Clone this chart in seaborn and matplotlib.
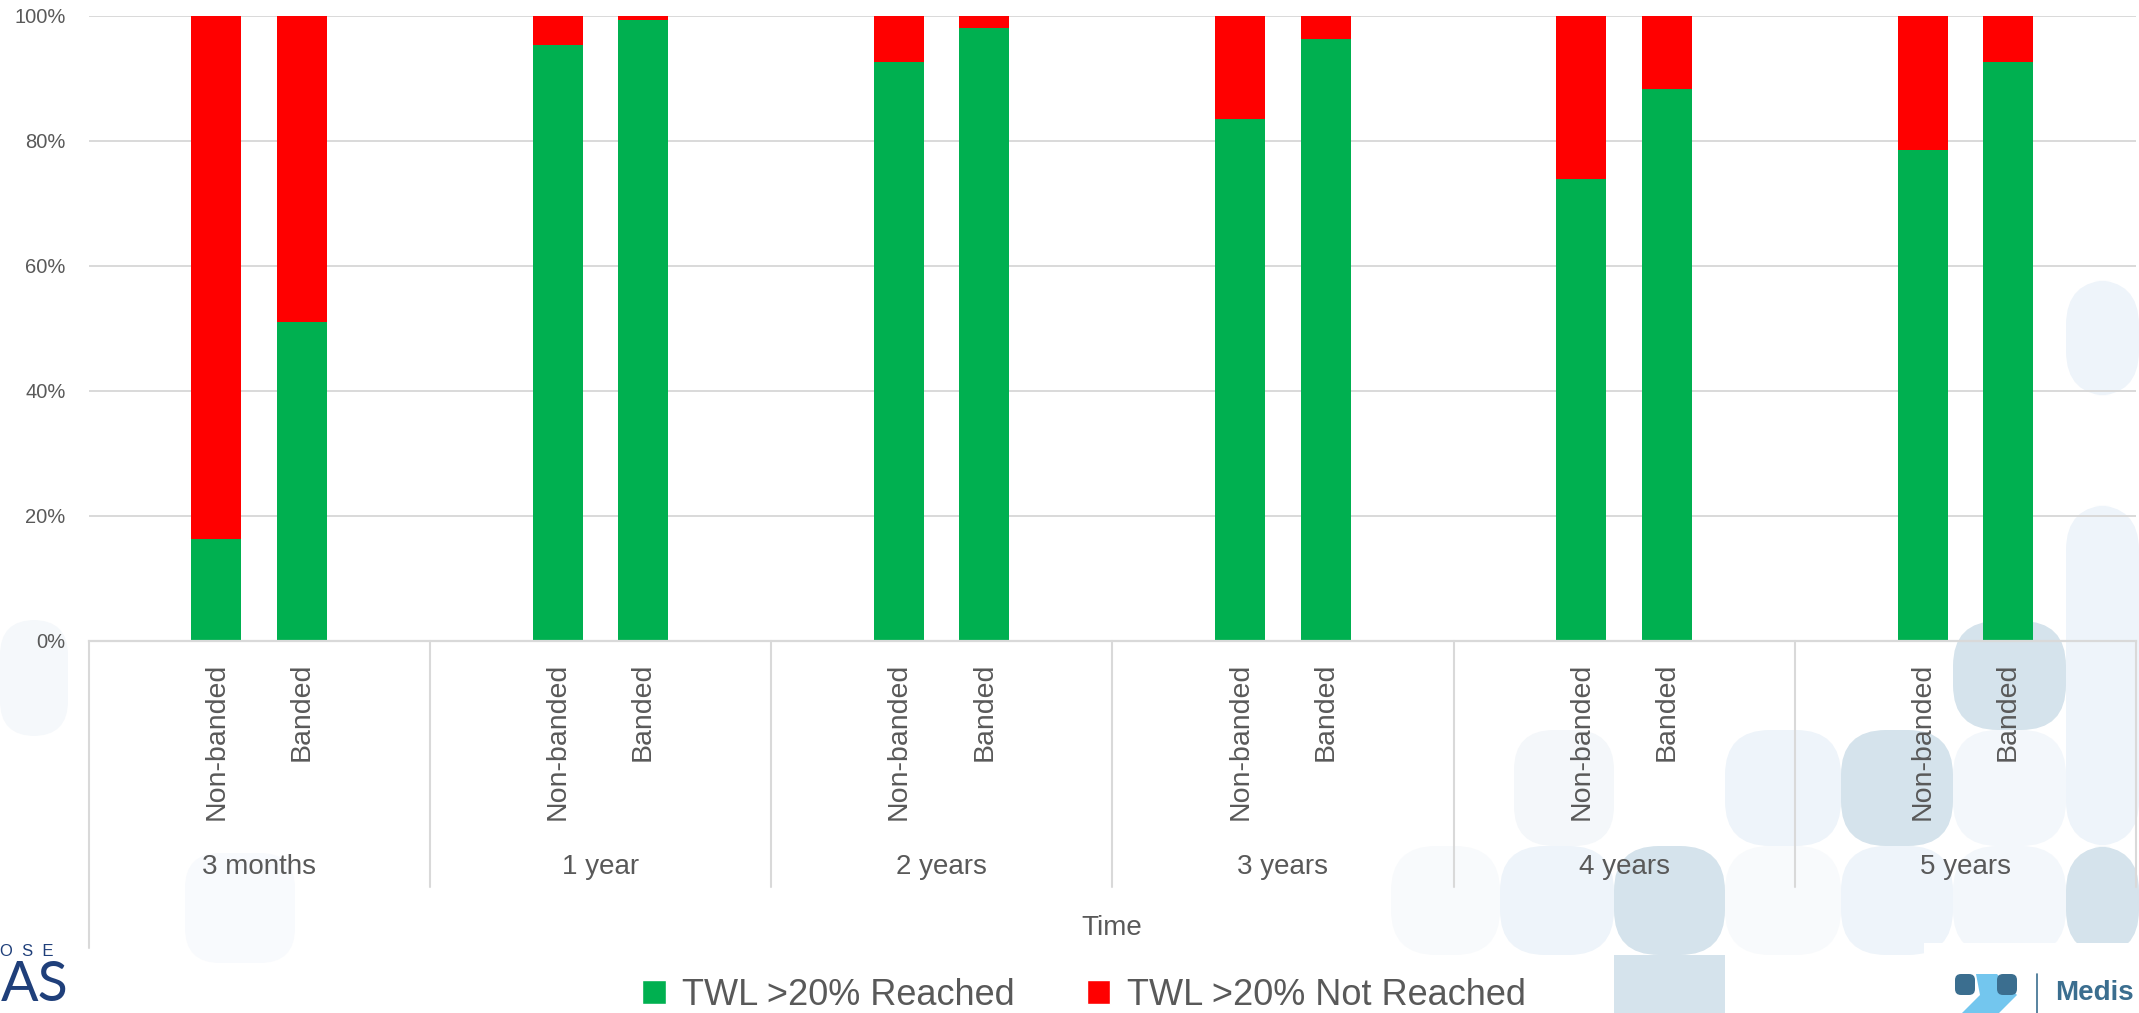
import numpy as np
import pandas as pd
import matplotlib
matplotlib.use("Agg")
import matplotlib.pyplot as plt
import matplotlib.transforms as mtransforms
from matplotlib.patches import FancyBboxPatch, Patch, Rectangle, Polygon
import seaborn as sns

# ---- data -------------------------------------------------------------
time_points = ["3 months", "1 year", "2 years", "3 years", "4 years", "5 years"]
groups = ["Non-banded", "Banded"]
reached_non_banded = [16.3, 95.3, 92.6, 83.5, 73.8, 78.5]   # % TWL >20% reached
reached_banded = [50.9, 99.3, 98.0, 96.2, 88.2, 92.5]
stack_total = 100
series_labels = ["TWL >20% Reached", "TWL >20% Not Reached"]
y_ticks = [0, 20, 40, 60, 80, 100]
x_title = "Time"

GREEN = "#00b050"
RED = "#ff0000"
TEXT = "#595959"
GRID = "#d9d9d9"

rows = []
for t, nb, b in zip(time_points, reached_non_banded, reached_banded):
    rows.append((t, "Non-banded", nb))
    rows.append((t, "Banded", b))
df = pd.DataFrame(rows, columns=["time", "group", "reached"])
df["total"] = stack_total

# ---- figure -----------------------------------------------------------
sns.set_theme(style="white")
plt.rcParams["font.family"] = ["Liberation Sans", "DejaVu Sans"]

W, H = 2139, 1013
fig = plt.figure(figsize=(W / 100, H / 100), dpi=100)
fig.patch.set_facecolor("white")

# decorative background tiles (pixel coordinates, origin top-left)
tiles = [
    (2066, 280, 2139, 396, "#eef4fa", 45),
    (2066, 505, 2139, 846, "#eef4fa", 45),
    (1953, 621, 2066, 730, "#d5e3ec", 45),
    (1953, 730, 2066, 846, "#f3f7fb", 45),
    (1841, 730, 1953, 846, "#d5e3ec", 45),
    (1725, 730, 1841, 846, "#eef4fa", 45),
    (1514, 730, 1614, 846, "#f4f7fa", 40),
    (1500, 846, 1614, 955, "#eef4fa", 45),
    (1614, 846, 1725, 955, "#d5e3ec", 45),
    (1614, 955, 1725, 1013, "#d5e3ec", 0),
    (1725, 846, 1841, 955, "#f8fafc", 45),
    (1841, 846, 1953, 955, "#eef4fa", 45),
    (1953, 846, 2066, 955, "#f3f7fb", 45),
    (2066, 846, 2139, 955, "#d5e3ec", 45),
    (1391, 846, 1500, 955, "#f8fafc", 45),
    (0, 620, 68, 736, "#f5f8fb", 35),
    (185, 853, 295, 963, "#f8fafd", 35),
]
for x0, y0, x1, y1, c, r in tiles:
    style = f"round,pad=0,rounding_size={r}" if r else "square,pad=0"
    fig.patches.append(FancyBboxPatch((x0, H - y1), x1 - x0, y1 - y0,
                                      boxstyle=style, transform=None,
                                      facecolor=c, edgecolor="none", zorder=0))

ax = fig.add_axes([88.5 / W, 1 - 640.5 / H, (2136 - 88.5) / W, 624.9 / H])
ax.set_facecolor("none")
ax.set_zorder(1)

# stacked bars: the full 100% stack in red, the reached share in green over it
sns.barplot(data=df, x="time", y="total", hue="group", order=time_points,
            hue_order=groups, palette={g: RED for g in groups}, saturation=1,
            width=0.5, gap=0.414, errorbar=None, linewidth=0, legend=False, ax=ax)
sns.barplot(data=df, x="time", y="reached", hue="group", order=time_points,
            hue_order=groups, palette={g: GREEN for g in groups}, saturation=1,
            width=0.5, gap=0.414, errorbar=None, linewidth=0, legend=False, ax=ax)

ax.set_ylim(0, 100)
ax.set_xlim(-0.5, len(time_points) - 0.5)
ax.set_yticks(y_ticks)
ax.yaxis.set_major_formatter(lambda v, p: f"{v:.0f}%")
ax.grid(axis="y", color=GRID, linewidth=1.4)
ax.grid(axis="x", visible=False)
ax.set_axisbelow(True)
for s in ["left", "right", "top"]:
    ax.spines[s].set_visible(False)
ax.spines["bottom"].set_color(GRID)
ax.spines["bottom"].set_linewidth(1.6)
ax.set_xlabel("")
ax.set_ylabel("")

# per-bar group labels as rotated ticks
ticks, labels = [], []
for g, cont in zip(groups, ax.containers[len(groups):]):
    for bar in cont:
        ticks.append(bar.get_x() + bar.get_width() / 2)
        labels.append(g)
ax.set_xticks(ticks, labels)
ax.tick_params(axis="x", length=0, pad=16, labelsize=20.5, labelcolor=TEXT,
               labelrotation=90)
ax.tick_params(axis="y", length=0, pad=16.5, labelsize=14.5, labelcolor=TEXT)

# time-point labels and separators of the multi-level category axis
trans = mtransforms.blended_transform_factory(ax.transData, ax.transAxes)
for i, t in enumerate(time_points):
    ax.text(i, -0.3625, t, transform=trans, ha="center", va="center",
            fontsize=20, color=TEXT)
for i in range(len(time_points) + 1):
    y_end = -0.492 if i == 0 else -0.394
    ax.plot([i - 0.5, i - 0.5], [0, y_end], transform=trans, color=GRID,
            linewidth=1.5, clip_on=False)

fig.text(1112 / W, 1 - 928 / H, x_title, ha="center", va="center",
         fontsize=20, color=TEXT, zorder=3)

leg = fig.legend(handles=[Patch(facecolor=GREEN), Patch(facecolor=RED)],
                 labels=series_labels, loc="center",
                 bbox_to_anchor=(1084 / W, 1 - 995 / H), ncol=2, frameon=False,
                 fontsize=26, handlelength=0.65, handleheight=0.65,
                 handletextpad=0.45, columnspacing=2.0, labelcolor=TEXT)
leg.set_zorder(4)

# corner logos
fig.patches.append(Rectangle((1924, 0), W - 1924, H - 943, transform=None,
                             facecolor="white", edgecolor="none", zorder=2))
fig.patches.append(Polygon([(1976, H - 974), (1997, H - 974), (2017, H - 995),
                            (1999, H - 1013), (1962, H - 1013), (1980, H - 995)],
                           closed=True, transform=None,
                           facecolor="#73c6ee", edgecolor="none", zorder=2.1))
for x0 in (1955, 1997):
    fig.patches.append(FancyBboxPatch((x0, H - 995), 20, 21,
                                      boxstyle="round,pad=0,rounding_size=6",
                                      transform=None, facecolor="#3b6e8f",
                                      edgecolor="none", zorder=2.2))
fig.lines.append(plt.Line2D([2037, 2037], [H - 974, 0], transform=None,
                            color="#3b6e8f", linewidth=1.2, zorder=2.2))
fig.text(2055 / W, 1 - 1000 / H, "Medis", ha="left", va="baseline",
         fontsize=20, fontweight="bold", color="#3b6e8f", zorder=3)
fig.text(54 / W, 1 - 951 / H, "O  S  E", ha="right", va="center",
         fontsize=12, color="#1f3f7a", zorder=3)
fig.text(1 / W, 1 - 1011 / H, "AS", ha="left", va="bottom",
         fontsize=40, color="#1f3f7a", zorder=3,
         family=["Lato", "Liberation Sans"])

fig.savefig("out.png", dpi=100, facecolor="white")
